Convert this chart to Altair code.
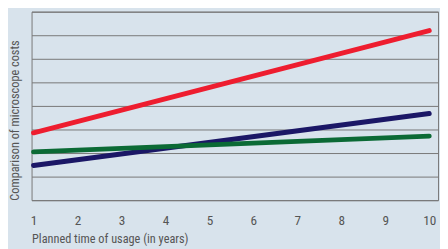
import altair as alt
import pandas as pd

years = [1, 10]
series = ["Red", "Blue", "Green"]
red_vals = [2.86, 7.2]
blue_vals = [1.47, 3.68]
green_vals = [2.05, 2.72]
colors = ["#ee1d2f", "#1b1766", "#0b6a35"]
x_ticks = [1, 2, 3, 4, 5, 6, 7, 8, 9, 10]

rows = []
for name, vals in zip(series, [red_vals, blue_vals, green_vals]):
    for x, v in zip(years, vals):
        rows.append({"series": name, "year": x, "cost": v})
df = pd.DataFrame(rows)

FONT = "Liberation Sans Narrow, Roboto Condensed, Arial Narrow, Liberation Sans, sans-serif"
TEXT = "#555555"
BG = "#d8e3ec"

chart = alt.Chart(df).mark_line(strokeWidth=5, strokeCap="round").encode(
    x=alt.X("year:Q",
            scale=alt.Scale(domain=[0.955, 10.2], nice=False, zero=False),
            axis=alt.Axis(values=x_ticks, grid=False, ticks=False, domain=False,
                          labelPadding=24.5, labelBaseline="alphabetic",
                          labelFontSize=13.5, labelColor=TEXT, labelFont=FONT,
                          title="Planned time of usage (in years)",
                          titleFont=FONT, titleFontSize=12.5, titleFontWeight="normal",
                          titleColor=TEXT, titleAlign="left", titleBaseline="alphabetic",
                          titleX=0, titleY=43)),
    y=alt.Y("cost:Q",
            scale=alt.Scale(domain=[0, 8], nice=False),
            axis=alt.Axis(values=[0, 1, 2, 3, 4, 5, 6, 7, 8], labels=False, ticks=False,
                          domain=False, grid=True, gridColor="#777777", gridWidth=1,
                          gridOpacity=1,
                          title="Comparison of microscope costs", titleFont=FONT,
                          titleFontSize=12.5, titleFontWeight="normal", titleColor=TEXT,
                          titleAlign="left", titleBaseline="alphabetic",
                          titleX=-13.5, titleY=192)),
    color=alt.Color("series:N", scale=alt.Scale(domain=series, range=colors), legend=None),
).properties(
    width=414, height=192, background=BG,
    autosize=alt.AutoSizeParams(type="none"),
    padding={"left": 24, "top": 1.5, "right": 2, "bottom": 48},
).configure_view(
    stroke="#777777", strokeWidth=1, fill=BG
)

chart.save("out.html", embed_options={"renderer": "svg", "actions": False})
